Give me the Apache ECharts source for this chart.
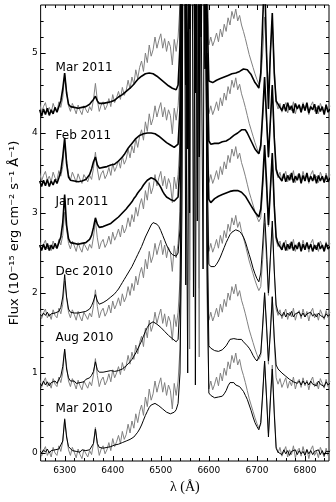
<!DOCTYPE html>
<html lang="en">
<head>
    <meta charset="UTF-8">
    <title>Spectra</title>
    <script src="https://cdn.jsdelivr.net/npm/echarts@6/dist/echarts.min.js"></script>
    <style>
        html, body { margin: 0; padding: 0; background: #fff; }
    </style>
</head>
<body>
    <div id="main" style="width: 336px;height:502px;"></div>
    <script type="text/javascript">

        // wavelength grid (Angstrom)
        var wave = [
            6248,6252,6256,6260,6264,6268,6272,6276,6280,6284,6288,6292,6296,
            6300,
            6304,6308,6312,6316,6320,6324,6328,6332,6336,6340,6344,6348,6352,6356,6360,
            6364,
            6368,6372,6376,6380,6384,6388,6392,6396,6400,6404,6408,6412,6416,6420,6424,6428,6432,6436,6440,6444,6448,6452,
            6456,6460,6464,6468,6472,6476,6480,6484,6488,6492,6496,6500,6504,6508,6512,6516,6520,6524,6528,6532,6536,
            6540,6544,6548,6552,6556,6560,6564,6568,6572,6576,6580,6584,6588,6592,6596,6600,
            6604,6608,6612,6616,6620,6624,6628,6632,6636,6640,6644,6648,6652,6656,6660,6664,6668,6672,6676,6680,6684,6688,
            6692,6696,6700,6704,
            6708,6712,6716,6720,6724,6728,6732,6736,6740,6744,
            6748,6752,6756,6760,6764,6768,6772,6776,6780,6784,6788,6792,6796,6800,6804,6808,6812,6816,6820,6824,6828,6832,
            6836,6840,6844,6848,6852
        ];

        // grey comparison spectrum (same one under every epoch, shifted)
        var greyFlux = [
            0.06,-0.04,0.03,0.08,-0.03,0.02,-0.05,0.07,0.0,-0.03,0.09,0.02,0.14,
            0.43,
            0.22,0.04,-0.03,0.07,0.01,-0.06,0.05,-0.02,-0.07,0.04,0.06,-0.05,0.03,-0.02,0.12,
            0.32,
            0.11,-0.03,0.05,0.09,-0.01,0.04,0.13,0.03,0.18,0.08,0.14,0.22,0.12,0.27,0.17,0.23,0.36,0.25,0.4,0.31,0.49,0.38,
            0.52,0.6,0.47,0.7,0.58,0.8,0.66,0.74,0.9,0.76,0.86,0.94,0.76,0.88,0.72,0.85,0.78,0.55,0.87,0.72,0.9,
            1.3,3.5,9,9,9,1.3,9,9,9,9,1.2,9,9,9,2.0,0.8,
            0.9,0.79,0.86,0.95,0.84,1.0,0.9,1.06,0.97,1.14,1.05,1.22,1.13,1.25,1.1,1.17,1.05,0.97,0.88,0.78,0.68,0.6,
            0.52,0.44,0.37,0.31,
            0.36,0.7,1.15,0.7,0.25,0.7,1.1,0.55,0.08,0.0,
            0.07,-0.04,0.02,0.08,-0.05,0.04,-0.02,0.09,-0.06,0.03,0.06,-0.04,0.08,-0.02,0.05,-0.07,0.04,0.09,-0.03,0.02,
            -0.06,0.07,0.01,-0.05,0.06,-0.03,0.04
        ];
        var greyOffset = [0, 0.86, 1.72, 2.58, 3.44, 4.3];

        var epochs = ['Mar 2010', 'Aug 2010', 'Dec 2010', 'Jan 2011', 'Feb 2011', 'Mar 2011'];
        var labelY = [0.55, 1.44, 2.27, 3.14, 3.96, 4.82];
        var labelX = 6281;

        var blackMar10 = [
            0.03,0.0,0.04,0.01,0.05,0.0,0.03,0.01,0.04,0.02,0.05,0.06,0.15,
            0.42,
            0.2,0.08,0.06,0.03,0.05,0.02,0.04,0.01,0.04,0.02,0.03,0.01,0.04,0.05,0.12,
            0.3,
            0.12,0.07,0.08,0.06,0.08,0.07,0.09,0.08,0.09,0.1,0.1,0.11,0.12,0.13,0.13,0.15,0.15,0.17,0.18,0.2,0.22,0.26,
            0.3,0.35,0.41,0.47,0.52,0.57,0.6,0.62,0.62,0.6,0.59,0.57,0.55,0.53,0.51,0.5,0.49,0.5,0.51,0.54,0.62,
            1.0,3.0,9,9,1.0,9,9,9,0.85,9,9,9,9,9,2.5,0.75,
            0.72,0.7,0.69,0.71,0.7,0.72,0.71,0.74,0.78,0.84,0.88,0.9,0.88,0.85,0.86,0.83,0.8,0.77,0.72,0.67,0.6,0.53,
            0.45,0.38,0.33,0.29,
            0.38,0.75,1.15,0.7,0.2,0.65,1.05,0.5,0.06,0.01,
            0.03,-0.02,0.04,-0.01,0.03,-0.03,0.02,0.0,0.04,-0.02,0.03,-0.01,0.02,-0.03,0.04,-0.01,0.03,-0.02,0.02,0.0,
            0.04,-0.02,0.03,-0.03,0.02,0.0,0.02
        ];
        var blackAug10 = [
            0.88,0.84,0.9,0.85,0.89,0.84,0.88,0.86,0.9,0.87,0.92,0.96,1.08,
            1.3,
            1.05,0.94,0.9,0.88,0.9,0.87,0.89,0.88,0.9,0.89,0.92,0.91,0.94,0.97,1.02,
            1.14,
            1.04,1.01,1.0,1.01,1.0,1.02,1.01,1.03,1.03,1.02,1.04,1.03,1.05,1.05,1.07,1.09,1.11,1.14,1.17,1.21,1.25,1.3,
            1.35,1.4,1.46,1.52,1.57,1.61,1.63,1.64,1.63,1.61,1.59,1.57,1.55,1.52,1.5,1.47,1.45,1.43,1.41,1.39,1.42,
            1.9,4.5,9,2.1,9,9,9,1.95,9,9,9,9,2.3,9,3.0,1.34,
            1.31,1.29,1.28,1.27,1.27,1.28,1.29,1.31,1.34,1.38,1.42,1.44,1.43,1.41,1.42,1.44,1.42,1.39,1.37,1.34,1.31,1.27,
            1.22,1.18,1.15,1.14,
            1.25,1.6,2.0,1.6,1.15,1.5,1.95,1.45,1.1,1.05,
            1.03,1.0,0.99,0.96,0.95,0.92,0.93,0.89,0.91,0.87,0.9,0.85,0.9,0.86,0.89,0.85,0.9,0.86,0.88,0.84,
            0.9,0.86,0.88,0.83,0.89,0.85,0.87
        ];
        var blackDec10 = [
            1.74,1.71,1.75,1.72,1.76,1.71,1.74,1.72,1.75,1.73,1.77,1.82,1.95,
            2.23,
            1.95,1.8,1.76,1.74,1.75,1.73,1.75,1.74,1.76,1.75,1.77,1.78,1.8,1.84,1.9,
            1.98,
            1.9,1.86,1.86,1.88,1.89,1.91,1.93,1.95,1.97,1.99,2.02,2.05,2.09,2.13,2.17,2.21,2.25,2.29,2.33,2.38,2.43,2.48,
            2.53,2.58,2.64,2.7,2.75,2.8,2.85,2.88,2.88,2.86,2.83,2.78,2.72,2.66,2.6,2.55,2.51,2.48,2.47,2.46,2.5,
            2.8,5.0,9,9,9,3.0,9,9,9,2.9,9,9,9,9,3.6,2.36,
            2.33,2.32,2.33,2.36,2.4,2.45,2.51,2.57,2.63,2.68,2.73,2.76,2.78,2.79,2.79,2.77,2.74,2.7,2.64,2.56,2.48,2.4,
            2.31,2.24,2.18,2.14,
            2.25,2.6,3.0,2.55,2.0,2.45,2.9,2.3,1.85,1.76,
            1.75,1.71,1.76,1.7,1.75,1.72,1.77,1.7,1.74,1.72,1.76,1.71,1.75,1.7,1.74,1.72,1.76,1.71,1.74,1.7,
            1.75,1.72,1.73,1.69,1.74,1.71,1.73
        ];
        var blackJan11 = [
            2.6,2.53,2.61,2.54,2.62,2.53,2.6,2.55,2.62,2.56,2.63,2.7,2.88,
            3.23,
            2.85,2.68,2.63,2.61,2.62,2.6,2.61,2.6,2.62,2.61,2.63,2.64,2.67,2.72,2.82,
            2.94,
            2.86,2.82,2.82,2.83,2.84,2.85,2.86,2.87,2.89,2.91,2.93,2.95,2.97,3.0,3.02,3.05,3.08,3.11,3.14,3.18,3.21,3.25,
            3.28,3.31,3.35,3.38,3.41,3.43,3.44,3.44,3.42,3.39,3.36,3.32,3.27,3.23,3.2,3.18,3.17,3.16,3.15,3.15,3.2,
            3.6,6.0,9,9,3.8,9,9,9,9,9,3.7,9,9,9,4.2,3.17,
            3.13,3.15,3.18,3.2,3.21,3.22,3.23,3.24,3.25,3.26,3.27,3.28,3.28,3.28,3.28,3.27,3.26,3.24,3.21,3.17,3.13,3.09,
            3.05,3.01,2.98,2.95,
            3.05,3.4,3.85,3.4,2.85,3.3,3.75,3.1,2.7,2.62,
            2.62,2.54,2.63,2.53,2.61,2.55,2.64,2.53,2.6,2.55,2.63,2.52,2.61,2.54,2.63,2.55,2.61,2.52,2.6,2.54,
            2.63,2.55,2.6,2.52,2.62,2.55,2.58
        ];
        var blackFeb11 = [
            3.4,3.33,3.41,3.34,3.42,3.33,3.4,3.35,3.42,3.37,3.44,3.52,3.7,
            3.94,
            3.62,3.45,3.41,3.39,3.4,3.38,3.39,3.38,3.4,3.39,3.42,3.44,3.48,3.55,3.64,
            3.7,
            3.6,3.56,3.56,3.57,3.58,3.58,3.59,3.6,3.6,3.61,3.63,3.65,3.67,3.7,3.73,3.77,3.81,3.84,3.87,3.9,3.93,3.95,
            3.97,3.98,3.99,4.0,4.0,4.01,4.0,4.0,3.99,3.97,3.96,3.94,3.92,3.9,3.88,3.87,3.85,3.84,3.82,3.81,3.86,
            4.3,7,9,4.6,9,9,9,9,4.5,9,9,9,9,4.8,5.0,3.9,
            3.86,3.86,3.87,3.87,3.87,3.88,3.89,3.89,3.9,3.92,3.93,3.95,3.97,3.98,4.0,4.02,4.04,4.06,4.04,4.0,3.95,3.9,
            3.85,3.8,3.77,3.74,
            3.85,4.25,4.7,4.2,3.7,4.15,4.6,3.95,3.55,3.47,
            3.48,3.4,3.49,3.39,3.47,3.41,3.5,3.38,3.46,3.41,3.49,3.37,3.47,3.4,3.5,3.39,3.46,3.4,3.48,3.37,
            3.47,3.4,3.46,3.38,3.47,3.39,3.44
        ];
        var blackMar11 = [
            4.29,4.21,4.3,4.23,4.31,4.22,4.29,4.24,4.32,4.26,4.33,4.4,4.55,
            4.75,
            4.5,4.36,4.33,4.31,4.32,4.3,4.31,4.3,4.32,4.31,4.33,4.34,4.36,4.39,4.42,
            4.46,
            4.4,4.37,4.37,4.37,4.38,4.38,4.39,4.39,4.4,4.41,4.43,4.45,4.47,4.48,4.5,4.52,4.54,4.56,4.58,4.61,4.64,4.67,
            4.69,4.71,4.73,4.74,4.75,4.75,4.75,4.74,4.73,4.71,4.69,4.67,4.65,4.63,4.61,4.59,4.57,4.56,4.55,4.54,4.6,
            5.1,8,9,9,9,5.3,9,9,9,9,9,5.2,9,9,5.6,4.65,
            4.63,4.63,4.64,4.66,4.67,4.68,4.69,4.7,4.71,4.72,4.73,4.74,4.75,4.75,4.76,4.77,4.79,4.8,4.81,4.79,4.76,4.73,
            4.68,4.63,4.6,4.56,
            4.75,5.4,6.0,5.0,4.3,5.0,5.5,4.75,4.4,4.36,
            4.37,4.28,4.36,4.27,4.38,4.29,4.34,4.25,4.37,4.3,4.35,4.26,4.36,4.28,4.38,4.25,4.33,4.29,4.36,4.24,
            4.34,4.27,4.33,4.23,4.35,4.26,4.3
        ];
        var blackFlux = [blackMar10, blackAug10, blackDec10, blackJan11, blackFeb11, blackMar11];
        var blackWidth = [1, 1, 1, 1.6, 1.6, 1.6];

        // tick positions
        var xMajor = [6300, 6400, 6500, 6600, 6700, 6800];
        var xMinor = [6260, 6280, 6320, 6340, 6360, 6380, 6420, 6440, 6460, 6480, 6520, 6540, 6560, 6580,
                      6620, 6640, 6660, 6680, 6720, 6740, 6760, 6780, 6820, 6840];
        var yMajor = [0, 1, 2, 3, 4, 5];
        var yMinor = [0.2, 0.4, 0.6, 0.8, 1.2, 1.4, 1.6, 1.8, 2.2, 2.4, 2.6, 2.8, 3.2, 3.4, 3.6, 3.8,
                      4.2, 4.4, 4.6, 4.8, 5.2, 5.4];

        var xr = { min: 6250, max: 6850 };
        var yr = { min: -0.1, max: 5.6 };

        var myChart = echarts.init(document.getElementById('main'));

        var series = [];
        epochs.forEach(function (ep, i) {
            series.push({
                name: ep + ' grey',
                type: 'line',
                symbol: 'none',
                lineStyle: { color: '#808080', width: 1 },
                data: wave.map(function (w, k) { return [w, greyFlux[k] + greyOffset[i]]; }),
                z: 2
            });
        });
        epochs.forEach(function (ep, i) {
            series.push({
                name: ep,
                type: 'line',
                symbol: 'none',
                lineStyle: { color: '#000', width: blackWidth[i] },
                data: wave.map(function (w, k) { return [w, blackFlux[i][k]]; }),
                z: 3
            });
        });

        // inward ticks on all four sides
        function tickLine(x1, y1, x2, y2) {
            return { type: 'line', shape: { x1: x1, y1: y1, x2: x2, y2: y2 },
                     style: { stroke: '#000', lineWidth: 1 } };
        }
        series.push({
            type: 'custom',
            name: 'xticks',
            clip: false,
            z: 5,
            data: xMajor.map(function (v) { return [v, 1]; }).concat(xMinor.map(function (v) { return [v, 0]; })),
            renderItem: function (params, api) {
                var cs = params.coordSys;
                var px = Math.round(api.coord([api.value(0), yr.min])[0]) + 0.5;
                var len = api.value(1) ? 5 : 3;
                var b = cs.y + cs.height;
                return { type: 'group', children: [
                    tickLine(px, b, px, b - len),
                    tickLine(px, cs.y, px, cs.y + len)
                ] };
            }
        });
        series.push({
            type: 'custom',
            name: 'yticks',
            clip: false,
            z: 5,
            data: yMajor.map(function (v) { return [v, 1]; }).concat(yMinor.map(function (v) { return [v, 0]; })),
            renderItem: function (params, api) {
                var cs = params.coordSys;
                var py = Math.round(api.coord([xr.min, api.value(0)])[1]) + 0.5;
                var len = api.value(1) ? 5 : 3;
                var r = cs.x + cs.width;
                return { type: 'group', children: [
                    tickLine(cs.x, py, cs.x + len, py),
                    tickLine(r, py, r - len, py)
                ] };
            }
        });

        option = {
            animation: false,
            backgroundColor: '#fff',
            grid: { left: 40, right: 7, top: 5, bottom: 41, show: true,
                    borderColor: '#000', borderWidth: 1, backgroundColor: 'transparent' },
            xAxis: {
                type: 'value',
                min: xr.min, max: xr.max,
                splitLine: { show: false },
                axisLine: { show: false },
                axisTick: { show: false },
                axisLabel: { customValues: xMajor, color: '#000', fontSize: 9, fontFamily: 'DejaVu Sans', margin: 5,
                             formatter: function (v) { return String(v); } },
                name: 'λ (Å)', nameLocation: 'middle', nameGap: 15,
                nameTextStyle: { fontFamily: 'Liberation Serif', fontSize: 14, color: '#000' }
            },
            yAxis: {
                type: 'value',
                min: yr.min, max: yr.max,
                splitLine: { show: false },
                axisLine: { show: false },
                axisTick: { show: false },
                axisLabel: { customValues: yMajor, color: '#000', fontSize: 9, fontFamily: 'DejaVu Sans', margin: 3,
                             formatter: function (v) { return String(v); } },
                name: 'Flux (10⁻¹⁵ erg cm⁻² s⁻¹ Å⁻¹)', nameLocation: 'middle', nameGap: 13,
                nameTextStyle: { fontFamily: 'DejaVu Sans', fontSize: 13, color: '#000' }
            },
            series: series
        };
        myChart.setOption(option);

        // epoch labels placed in data coordinates
        var texts = epochs.map(function (ep, i) {
            var p = myChart.convertToPixel({ xAxisIndex: 0, yAxisIndex: 0 }, [labelX, labelY[i]]);
            return {
                type: 'text', x: p[0], y: p[1], z: 10,
                style: { text: ep, fill: '#000', font: '12px "DejaVu Sans"',
                         align: 'left', verticalAlign: 'middle' }
            };
        });
        myChart.setOption({ graphic: texts });

    </script>
</body>
</html>
